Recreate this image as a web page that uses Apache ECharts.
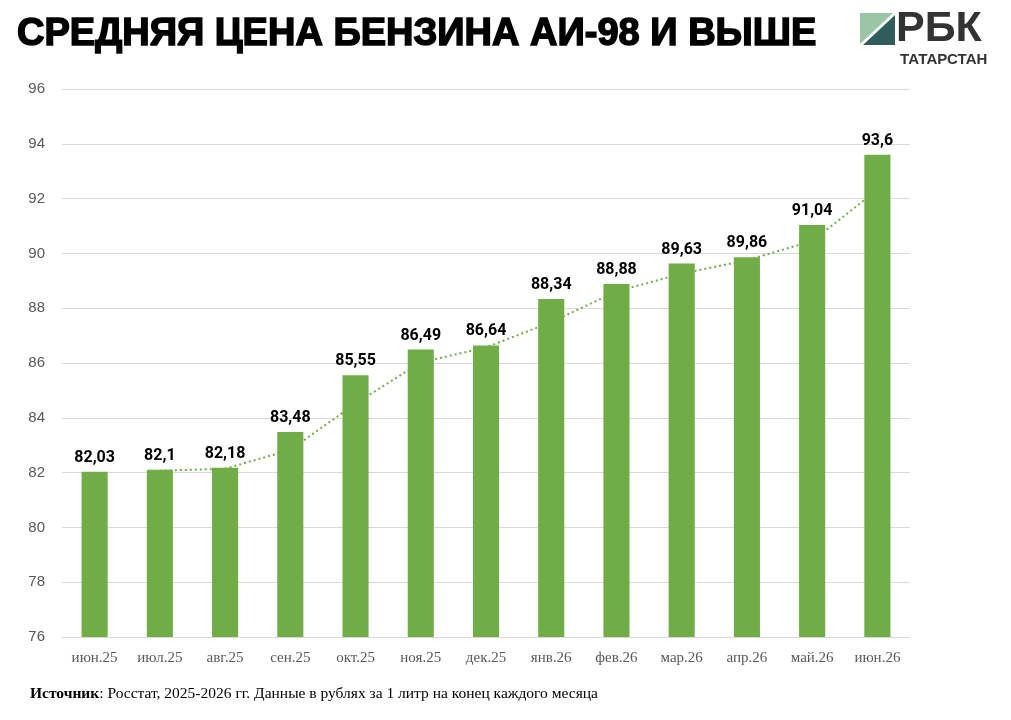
<!DOCTYPE html>
<html>
<head>
<meta charset="utf-8">
<script src="https://cdn.jsdelivr.net/npm/echarts@6/dist/echarts.min.js"></script>
<style>
  html, body { margin: 0; padding: 0; background: #fff; }
  #chart { width: 1011px; height: 720px; }
</style>
</head>
<body>
<div id="chart"></div>
<script>
// месяцы
var months = ['июн.25', 'июл.25', 'авг.25', 'сен.25', 'окт.25', 'ноя.25', 'дек.25',
              'янв.26', 'фев.26', 'мар.26', 'апр.26', 'май.26', 'июн.26'];
// средняя цена, руб/л
var prices = [82.03, 82.1, 82.18, 83.48, 85.55, 86.49, 86.64, 88.34, 88.88, 89.63, 89.86, 91.04, 93.6];
// пунктирная линия тренда
var trend = [null, 82.07, 82.14, 82.83, 84.52, 86.02, 86.57, 87.49, 88.61, 89.26, 89.75, 90.45, 92.32];
// деления оси Y
var yMin = 76, yMax = 96, yStep = 2;

var chart = echarts.init(document.getElementById('chart'));

chart.setOption({
    backgroundColor: '#fff',
    animation: false,
    title: {
        text: 'СРЕДНЯЯ ЦЕНА БЕНЗИНА АИ-98 И ВЫШЕ',
        left: 12,
        top: 11,
        textStyle: {
            fontFamily: 'Liberation Sans',
            fontWeight: 'bold',
            fontSize: 38,
            color: '#000',
            textBorderColor: '#000',
            textBorderWidth: 1.5
        }
    },
    grid: { left: 62, right: 101, top: 89, bottom: 83 },
    xAxis: {
        type: 'category',
        data: months,
        axisTick: { show: false },
        axisLine: { lineStyle: { color: '#d9d9d9' } },
        axisLabel: {
            fontFamily: 'Liberation Serif',
            fontSize: 15,
            color: '#595959',
            margin: 14
        }
    },
    yAxis: {
        type: 'value',
        min: yMin,
        max: yMax,
        interval: yStep,
        axisLine: { show: false },
        axisTick: { show: false },
        splitLine: { lineStyle: { color: '#d9d9d9' } },
        axisLabel: {
            fontFamily: 'Liberation Sans',
            fontSize: 15,
            color: '#595959',
            margin: 17
        }
    },
    series: [
        {
            name: 'тренд',
            type: 'line',
            data: trend,
            z: 1,
            symbol: 'none',
            lineStyle: { color: '#70AD47', width: 2, type: [2, 3] }
        },
        {
            name: 'цена',
            type: 'bar',
            data: prices,
            z: 2,
            barWidth: '40%',
            itemStyle: { color: '#70AD47' },
            label: {
                show: true,
                position: 'top',
                distance: 6,
                fontFamily: 'Roboto',
                fontWeight: 'bold',
                fontSize: 16,
                color: '#000',
                formatter: function (p) { return String(p.value).replace('.', ','); }
            }
        }
    ],
    graphic: [
        // логотип РБК
        { type: 'polygon', shape: { points: [[860, 13], [893, 13], [860, 44]] }, style: { fill: '#9cc5a6' } },
        { type: 'polygon', shape: { points: [[895, 15], [895, 45], [863, 45]] }, style: { fill: '#2f5d5b' } },
        {
            type: 'text', left: 896, top: 8,
            style: { text: 'РБК', font: 'bold 43px "Liberation Sans Narrow", "Liberation Sans"', fill: '#333' }
        },
        {
            type: 'text', left: 900, top: 52,
            style: { text: 'ТАТАРСТАН', font: 'bold 15px "Liberation Sans"', fill: '#333' }
        },
        // подпись источника
        {
            type: 'text', left: 30, top: 686,
            style: {
                text: '{b|Источник}: Росстат, 2025-2026 гг. Данные в рублях за 1 литр на конец каждого месяца',
                font: '15.5px "Liberation Serif"',
                fill: '#000',
                rich: {
                    b: { fontFamily: 'Liberation Serif', fontWeight: 'bold', fontSize: 15.5, fill: '#000' }
                }
            }
        }
    ]
});
</script>
</body>
</html>
